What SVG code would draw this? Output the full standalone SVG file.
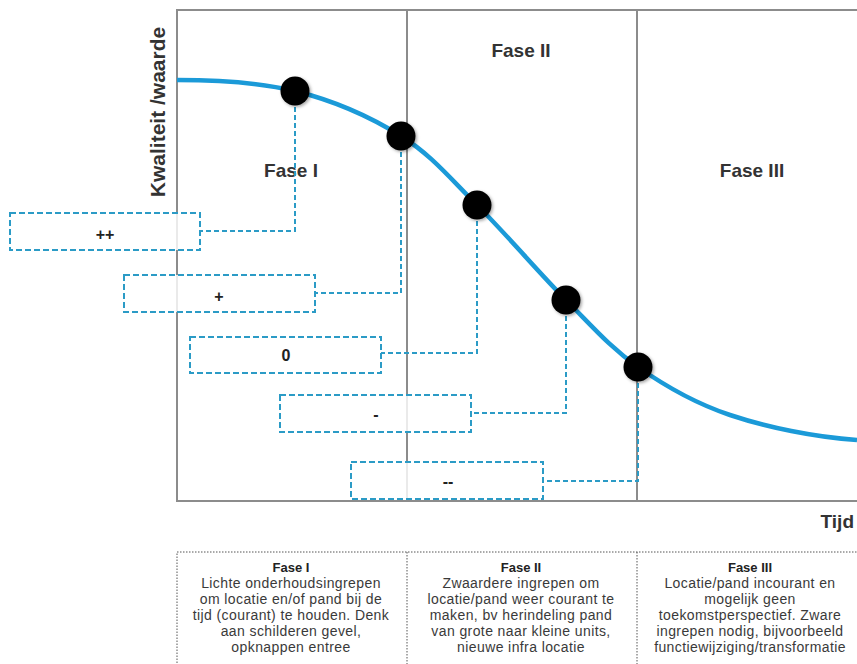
<svg xmlns="http://www.w3.org/2000/svg" width="857" height="664" viewBox="0 0 857 664">
<defs>
<style>
.frame{stroke:#8c8c8c;stroke-width:2;fill:none}
.lbl{font-family:"Liberation Sans",Arial,sans-serif;font-weight:bold;fill:#333}
.box{fill:#fff;fill-opacity:0.82;stroke:#2b9bc6;stroke-width:2;stroke-dasharray:6,3}
.drop{fill:none;stroke:#2b9bc6;stroke-width:2;stroke-dasharray:5,3}
.val{font-family:"Liberation Sans",Arial,sans-serif;font-weight:bold;font-size:16px;fill:#222;text-anchor:middle}
.dot{fill:#000;filter:url(#sh)}
.tbl{fill:none;stroke:#555;stroke-width:1;stroke-dasharray:1.5,1.5}
.th{font-family:"Liberation Sans",Arial,sans-serif;font-weight:bold;font-size:13px;fill:#222;text-anchor:middle}
.td{font-family:"Liberation Sans",Arial,sans-serif;font-size:14px;letter-spacing:0.4px;fill:#3a3a3a;text-anchor:middle}
</style>
<filter id="sh" x="-50%" y="-50%" width="200%" height="200%">
<feDropShadow dx="1.5" dy="1.5" stdDeviation="1.5" flood-color="#000" flood-opacity="0.35"/>
</filter>
</defs>
<g id="frame">
<path class="frame" d="M857,10 H177 V501 H857"/>
<line class="frame" x1="407" y1="10" x2="407" y2="501"/>
<line class="frame" x1="637" y1="10" x2="637" y2="501"/>
</g>
<g id="axis-labels">
<text class="lbl" font-size="21" text-anchor="middle" transform="translate(165,112) rotate(-90)">Kwaliteit /waarde</text>
<text class="lbl" font-size="19" x="854" y="528" text-anchor="end">Tijd</text>
<text class="lbl" font-size="19" x="291" y="177" text-anchor="middle">Fase I</text>
<text class="lbl" font-size="19" x="521" y="57" text-anchor="middle">Fase II</text>
<text class="lbl" font-size="19" x="752" y="177" text-anchor="middle">Fase III</text>
</g>
<g id="connectors">
<path class="drop" d="M295,91 V231 H200"/>
<path class="drop" d="M401,136 V293 H315"/>
<path class="drop" d="M477,205 V353 H381"/>
<path class="drop" d="M566,300 V413 H471"/>
<path class="drop" d="M638,367 V481 H543"/>
</g>
<g id="curve">
<path d="M177,80 C216,80 258,82 295,91 C332.3,100.3 370.7,117 401,136 C431.3,155 449.5,177.7 477,205 C504.5,232.3 539.2,273 566,300 C592.8,327 610.7,347.8 638,367 C665.3,386.2 693.5,402.8 730,415 C766.5,427.2 814.7,437.3 857,440" fill="none" stroke="#1b9ad8" stroke-width="4.5"/>
</g>
<g id="dots">
<circle id="dot1" class="dot" cx="295" cy="91" r="14.5"/>
<circle id="dot2" class="dot" cx="401" cy="136" r="14.5"/>
<circle id="dot3" class="dot" cx="477" cy="205" r="14.5"/>
<circle id="dot4" class="dot" cx="566" cy="300" r="14.5"/>
<circle id="dot5" class="dot" cx="638" cy="367" r="14.5"/>
</g>
<g id="box-pp"><rect class="box" x="10" y="213" width="190" height="37"/><text class="val" x="105" y="240">++</text></g>
<g id="box-p"><rect class="box" x="124" y="275" width="191" height="37"/><text class="val" x="219" y="302">+</text></g>
<g id="box-0"><rect class="box" x="190" y="337" width="191" height="36"/><text class="val" x="286" y="361">0</text></g>
<g id="box-m"><rect class="box" x="280" y="395" width="191" height="37"/><text class="val" x="376" y="420">-</text></g>
<g id="box-mm"><rect class="box" x="351" y="462" width="192" height="37"/><text class="val" x="448" y="487">--</text></g>
<g id="table">
<path class="tbl" d="M177,672 V552 H857"/>
<line class="tbl" x1="407" y1="552" x2="407" y2="672"/>
<line class="tbl" x1="637" y1="552" x2="637" y2="672"/>
</g>
<g id="col1">
<text class="th" x="291" y="572">Fase I</text>
<text class="td" x="291" y="588">Lichte onderhoudsingrepen</text>
<text class="td" x="291" y="604">om locatie en/of pand bij de</text>
<text class="td" x="291" y="620">tijd (courant) te houden. Denk</text>
<text class="td" x="291" y="636">aan schilderen gevel,</text>
<text class="td" x="291" y="652">opknappen entree</text>
</g>
<g id="col2">
<text class="th" x="521" y="572">Fase II</text>
<text class="td" x="521" y="588">Zwaardere ingrepen  om</text>
<text class="td" x="521" y="604">locatie/pand weer courant te</text>
<text class="td" x="521" y="620">maken, bv herindeling pand</text>
<text class="td" x="521" y="636">van grote naar kleine units,</text>
<text class="td" x="521" y="652">nieuwe infra locatie</text>
</g>
<g id="col3">
<text class="th" x="750" y="572">Fase III</text>
<text class="td" x="750" y="588">Locatie/pand incourant en</text>
<text class="td" x="750" y="604">mogelijk geen</text>
<text class="td" x="750" y="620">toekomstperspectief.  Zware</text>
<text class="td" x="750" y="636">ingrepen nodig, bijvoorbeeld</text>
<text class="td" x="750" y="652">functiewijziging/transformatie</text>
</g>
</svg>
